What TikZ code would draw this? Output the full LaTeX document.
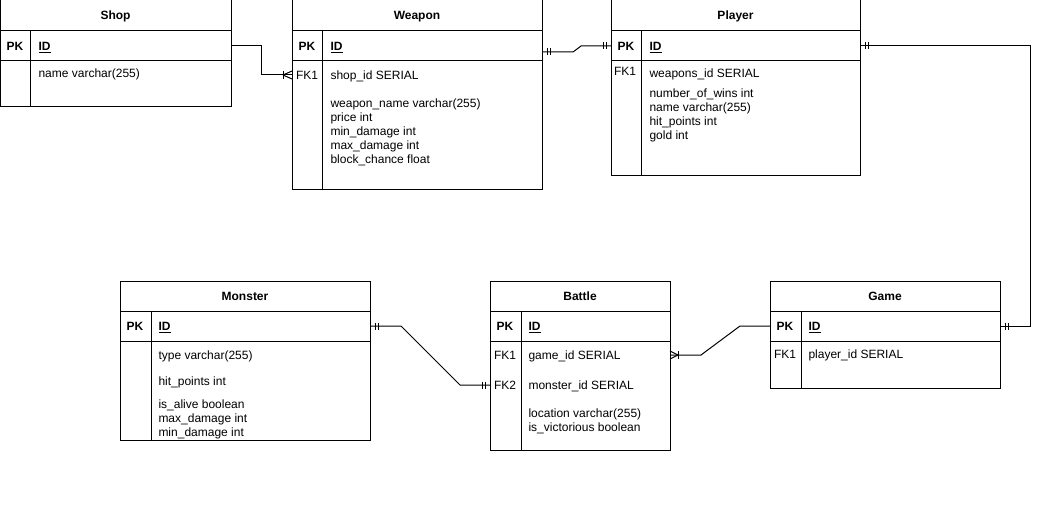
\documentclass[tikz,border=0pt]{standalone}
\usepackage{fontspec}
\setmainfont{Liberation Sans}
\usetikzlibrary{calc}
\begin{document}
\begin{tikzpicture}[x=1pt,y=-1pt,line width=1pt,
  box/.style={draw,rectangle,inner sep=0pt,outer sep=0pt,anchor=north west},
  ttl/.style={font=\bfseries\fontsize{12}{14}\selectfont,text height=10pt,text depth=1pt},
  fld/.style={font=\fontsize{12}{14}\selectfont,anchor=west,inner sep=0pt,text height=10pt,text depth=1pt},
  keyl/.style={font=\fontsize{12}{14}\selectfont,inner sep=0pt,text height=10pt,text depth=1pt},
  bkey/.style={keyl,font=\bfseries\fontsize{12}{14}\selectfont},
  conn/.style={draw,line width=1pt}
]
\useasboundingbox (0,0) rectangle (1040,521);

% ---------- Shop ----------
\node[box,ttl,minimum width=231pt,minimum height=31pt] (shop) at (0,0) {Shop};
\node[box,minimum width=231pt,minimum height=30pt] (shoppk) at (0,31) {};
\node[box,minimum width=231pt,minimum height=46pt] (shopbody) at (0,61) {};
\draw ([xshift=30pt]shoppk.north west) -- ([xshift=30pt]shopbody.south west);
\node[bkey] (shopk) at (15,46) {PK};
\node[fld] (shopid) at (38,46) {\bfseries\underline{ID}};
\node[fld] (shopf1) at (38,73) {name varchar(255)};

% ---------- Weapon ----------
\node[box,ttl,minimum width=250pt,minimum height=31pt] (weapon) at (292,0) {Weapon};
\node[box,minimum width=250pt,minimum height=30pt] (weaponpk) at (292,31) {};
\node[box,minimum width=250pt,minimum height=129pt] (weaponbody) at (292,61) {};
\draw ([xshift=30pt]weaponpk.north west) -- ([xshift=30pt]weaponbody.south west);
\node[bkey] (weaponk) at (307,46) {PK};
\node[fld] (weaponid) at (330,46) {\bfseries\underline{ID}};
\node[keyl] (wfk) at (307,75) {FK1};
\node[fld] (weaponf1) at (330,75) {shop\_id SERIAL};
\node[fld] (weaponf2) at (330,103) {weapon\_name varchar(255)};
\node[fld] (weaponf3) at (330,117) {price int};
\node[fld] (weaponf4) at (330,131) {min\_damage int};
\node[fld] (weaponf5) at (330,145) {max\_damage int};
\node[fld] (weaponf6) at (330,159) {block\_chance float};

% ---------- Player ----------
\node[box,ttl,minimum width=249pt,minimum height=31pt] (player) at (611,0) {Player};
\node[box,minimum width=249pt,minimum height=30pt] (playerpk) at (611,31) {};
\node[box,minimum width=249pt,minimum height=115pt] (playerbody) at (611,61) {};
\draw ([xshift=30pt]playerpk.north west) -- ([xshift=30pt]playerbody.south west);
\node[bkey] (playerk) at (626,46) {PK};
\node[fld] (playerid) at (649,46) {\bfseries\underline{ID}};
\node[keyl] (pfk) at (625,71) {FK1};
\node[fld] (playerf1) at (649,73) {weapons\_id SERIAL};
\node[fld] (playerf2) at (649,93) {number\_of\_wins int};
\node[fld] (playerf3) at (649,107) {name varchar(255)};
\node[fld] (playerf4) at (649,121) {hit\_points int};
\node[fld] (playerf5) at (649,135) {gold int};

% ---------- Monster ----------
\node[box,ttl,minimum width=250pt,minimum height=30pt] (monster) at (120,281) {Monster};
\node[box,minimum width=250pt,minimum height=30pt] (monsterpk) at (120,311) {};
\node[box,minimum width=250pt,minimum height=99pt] (monsterbody) at (120,341) {};
\draw ([xshift=31pt]monsterpk.north west) -- ([xshift=31pt]monsterbody.south west);
\node[bkey] (monsterk) at (135,326) {PK};
\node[fld] (monsterid) at (158,326) {\bfseries\underline{ID}};
\node[fld] (monsterf1) at (158,355) {type varchar(255)};
\node[fld] (monsterf2) at (158,381) {hit\_points int};
\node[fld] (monsterf3) at (158,404) {is\_alive boolean};
\node[fld] (monsterf4) at (158,418) {max\_damage int};
\node[fld] (monsterf5) at (158,432) {min\_damage int};

% ---------- Battle ----------
\node[box,ttl,minimum width=180pt,minimum height=30pt] (battle) at (490,281) {Battle};
\node[box,minimum width=180pt,minimum height=30pt] (battlepk) at (490,311) {};
\node[box,minimum width=180pt,minimum height=109pt] (battlebody) at (490,341) {};
\draw ([xshift=31pt]battlepk.north west) -- ([xshift=31pt]battlebody.south west);
\node[bkey] (battlek) at (505,326) {PK};
\node[fld] (battleid) at (528,326) {\bfseries\underline{ID}};
\node[keyl] (bfk1) at (505,355) {FK1};
\node[fld] (battlef1) at (528,355) {game\_id SERIAL};
\node[keyl] (bfk2) at (505,385) {FK2};
\node[fld] (battlef2) at (528,385) {monster\_id SERIAL};
\node[fld] (battlef3) at (528,413) {location varchar(255)};
\node[fld] (battlef4) at (528,427) {is\_victorious boolean};

% ---------- Game ----------
\node[box,ttl,minimum width=230pt,minimum height=30pt] (game) at (770,281) {Game};
\node[box,minimum width=230pt,minimum height=30pt] (gamepk) at (770,311) {};
\node[box,minimum width=230pt,minimum height=47pt] (gamebody) at (770,341) {};
\draw ([xshift=31pt]gamepk.north west) -- ([xshift=31pt]gamebody.south west);
\node[bkey] (gamek) at (785,326) {PK};
\node[fld] (gameid) at (808,326) {\bfseries\underline{ID}};
\node[keyl] (gfk) at (785,354) {FK1};
\node[fld] (gamef1) at (808,354) {player\_id SERIAL};

% ---------- connector end points ----------
\coordinate (sw) at (wfk -| weaponbody.west);
\coordinate (wpe) at ([yshift=-6pt]weaponpk.east);
\coordinate (bw2) at (bfk2 -| battlebody.west);
\coordinate (be1) at (bfk1 -| battlebody.east);

% Shop -> Weapon
\draw[conn] (shoppk.east) -- ++(30,0) |- (sw);
\draw ([shift={(-9,-4)}]sw) -- ([shift={(-9,4)}]sw);
\draw ([shift={(-9,0)}]sw) -- ([shift={(0,-4)}]sw);
\draw ([shift={(-9,0)}]sw) -- ([shift={(0,4)}]sw);

% Weapon -> Player
\draw[conn] (wpe) -- ++(31,0) -- ([xshift=-30pt]playerpk.west) -- (playerpk.west);
\draw ([shift={(5,-3.5)}]wpe) -- ([shift={(5,3.5)}]wpe);
\draw ([shift={(8,-3.5)}]wpe) -- ([shift={(8,3.5)}]wpe);
\draw ([shift={(-5,-3.5)}]playerpk.west) -- ([shift={(-5,3.5)}]playerpk.west);
\draw ([shift={(-8,-3.5)}]playerpk.west) -- ([shift={(-8,3.5)}]playerpk.west);

% Player -> Game
\draw[conn] (playerpk.east) -- ++(170,0) |- (gamepk.east);
\draw ([shift={(5,-3.5)}]playerpk.east) -- ([shift={(5,3.5)}]playerpk.east);
\draw ([shift={(8,-3.5)}]playerpk.east) -- ([shift={(8,3.5)}]playerpk.east);
\draw ([shift={(5,-3.5)}]gamepk.east) -- ([shift={(5,3.5)}]gamepk.east);
\draw ([shift={(8,-3.5)}]gamepk.east) -- ([shift={(8,3.5)}]gamepk.east);

% Monster -> Battle
\draw[conn] (monsterpk.east) -- ++(31,0) -- ([xshift=-30pt]bw2) -- (bw2);
\draw ([shift={(5,-3.5)}]monsterpk.east) -- ([shift={(5,3.5)}]monsterpk.east);
\draw ([shift={(8,-3.5)}]monsterpk.east) -- ([shift={(8,3.5)}]monsterpk.east);
\draw ([shift={(-5,-3.5)}]bw2) -- ([shift={(-5,3.5)}]bw2);
\draw ([shift={(-8,-3.5)}]bw2) -- ([shift={(-8,3.5)}]bw2);

% Battle -> Game
\draw[conn] (be1) -- ++(31,0) -- ([xshift=-30pt]gamepk.west) -- (gamepk.west);
\draw ([shift={(8,-4)}]be1) -- ([shift={(8,4)}]be1);
\draw ([shift={(8,0)}]be1) -- ([shift={(0,-4)}]be1);
\draw ([shift={(8,0)}]be1) -- ([shift={(0,4)}]be1);
\end{tikzpicture}
\end{document}
